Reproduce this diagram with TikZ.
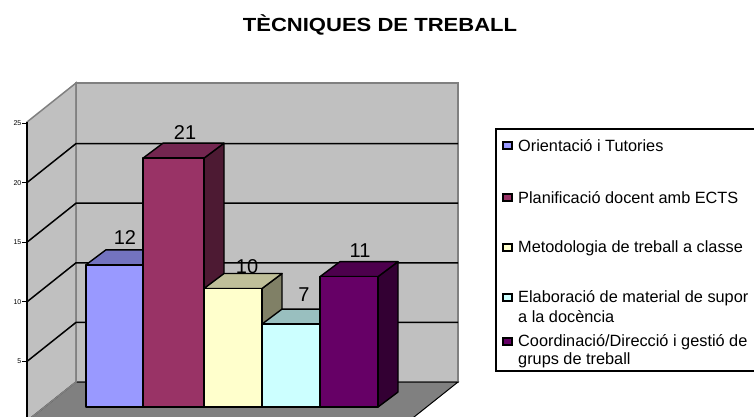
\documentclass[tikz,border=0pt]{standalone}
\usepackage{fontspec}
\setmainfont{Liberation Sans}
\definecolor{wallgray}{HTML}{C0C0C0}
\definecolor{floorgray}{HTML}{808080}
\definecolor{edgegray}{HTML}{808080}
\definecolor{aF}{HTML}{9999FF}\definecolor{aT}{HTML}{7373BF}\definecolor{aS}{HTML}{4D4D80}
\definecolor{bF}{HTML}{993366}\definecolor{bT}{HTML}{732650}\definecolor{bS}{HTML}{4D1A33}
\definecolor{cF}{HTML}{FFFFCC}\definecolor{cT}{HTML}{BFBF99}\definecolor{cS}{HTML}{808066}
\definecolor{dF}{HTML}{CCFFFF}\definecolor{dT}{HTML}{99BFBF}\definecolor{dS}{HTML}{668080}
\definecolor{eF}{HTML}{660066}\definecolor{eT}{HTML}{4D004D}\definecolor{eS}{HTML}{330033}
\newcommand{\mybar}[6]{%
  \pgfmathsetmacro{\yt}{407-#3*11.85}%
  \path[barline, fill=#6] (#2,\yt) -- ++(20,-15) -- (#2+20,392) -- (#2,407) -- cycle;
  \path[barline, fill=#5] (#1,\yt) -- ++(20,-15) -- (#2+20,\yt-15) -- (#2,\yt) -- cycle;
  \path[barline, fill=#4] (#1,\yt) rectangle (#2,407);
}
\begin{document}
\begin{tikzpicture}[x=1pt,y=-1pt,
  barline/.style={draw=black, line width=1.4pt, line join=round},
  wall/.style={fill=wallgray, draw=edgegray, line width=1.5pt},
  grid/.style={draw=black, line width=1.5pt},
  ticklab/.style={font=\fontsize{7}{8}\selectfont, anchor=east, inner sep=0pt},
  vallab/.style={font=\fontsize{20}{22}\selectfont, inner sep=0pt},
  legtext/.style={font=\fontsize{16.3}{18}\selectfont, anchor=west, inner sep=0pt},
  legmark/.style={draw=black, line width=1.1pt}]
\useasboundingbox (0,0) rectangle (754,416);
\begin{scope}
\clip (0,0) rectangle (754,416);
% title
\node[font=\bfseries\fontsize{19}{22}\selectfont, xscale=1.16] (title) at (380,25) {TÈCNIQUES DE TREBALL};
% walls
\path[wall] (76,83) rectangle (458,382);
\path[wall] (27,122) -- (76,83) -- (76,382) -- (27,421) -- cycle;
\path[fill=floorgray, draw=black, line width=1pt] (76,382) -- (458,382) -- (409,421) -- (27,421) -- cycle;
\draw[edgegray, line width=1.5pt] (76,83) -- (76,382) -- (27,421);
% gridlines
\foreach \v in {5,10,15,20} {
  \pgfmathsetmacro{\yb}{382-\v*11.92}
  \pgfmathsetmacro{\yf}{421-\v*11.92}
  \draw[grid] (27,\yf) -- (76,\yb) -- (458,\yb);
}
% axis
\draw[black, line width=1.4pt] (27,122) -- (27,421);
\foreach \v in {0,5,10,15,20,25} {
  \pgfmathsetmacro{\yf}{421-\v*11.92}
  \draw[black, line width=1pt] (22,\yf) -- (27,\yf);
  \node[ticklab] at (21.5,\yf) {\v};
}
% bars
\mybar{86}{143}{12}{aF}{aT}{aS}
\mybar{143}{204}{21}{bF}{bT}{bS}
\mybar{204}{262}{10}{cF}{cT}{cS}
\mybar{262}{320}{7}{dF}{dT}{dS}
\mybar{320}{378}{11}{eF}{eT}{eS}
% value labels
\node[vallab] (v1) at (125,238) {12};
\node[vallab] (v2) at (185,133) {21};
\node[vallab] (v3) at (247,267) {10};
\node[vallab] (v4) at (304,295) {7};
\node[vallab] (v5) at (360,251) {11};
% legend
\path[draw=black, fill=white, line width=1.5pt] (496,129) rectangle (770,371);
\path[legmark, fill=aF] (503,142) rectangle (512,149);
\node[legtext] (l1) at (518,146) {Orientació i Tutories};
\path[legmark, fill=bF] (503,194) rectangle (512,201);
\node[legtext] (l2) at (518,198) {Planificació docent amb ECTS};
\path[legmark, fill=cF] (503,244) rectangle (512,251);
\node[legtext] (l3) at (518,248) {Metodologia de treball a classe};
\path[legmark, fill=dF] (503,294) rectangle (512,301);
\node[legtext] (l4) at (518,298) {Elaboració de material de supor};
\node[legtext] (l4b) at (518,317) {a la docència};
\path[legmark, fill=eF] (503,338) rectangle (512,345);
\node[legtext] (l5) at (518,342) {Coordinació/Direcció i gestió de};
\node[legtext] (l5b) at (518,360) {grups de treball};
\end{scope}
\end{tikzpicture}
\end{document}
